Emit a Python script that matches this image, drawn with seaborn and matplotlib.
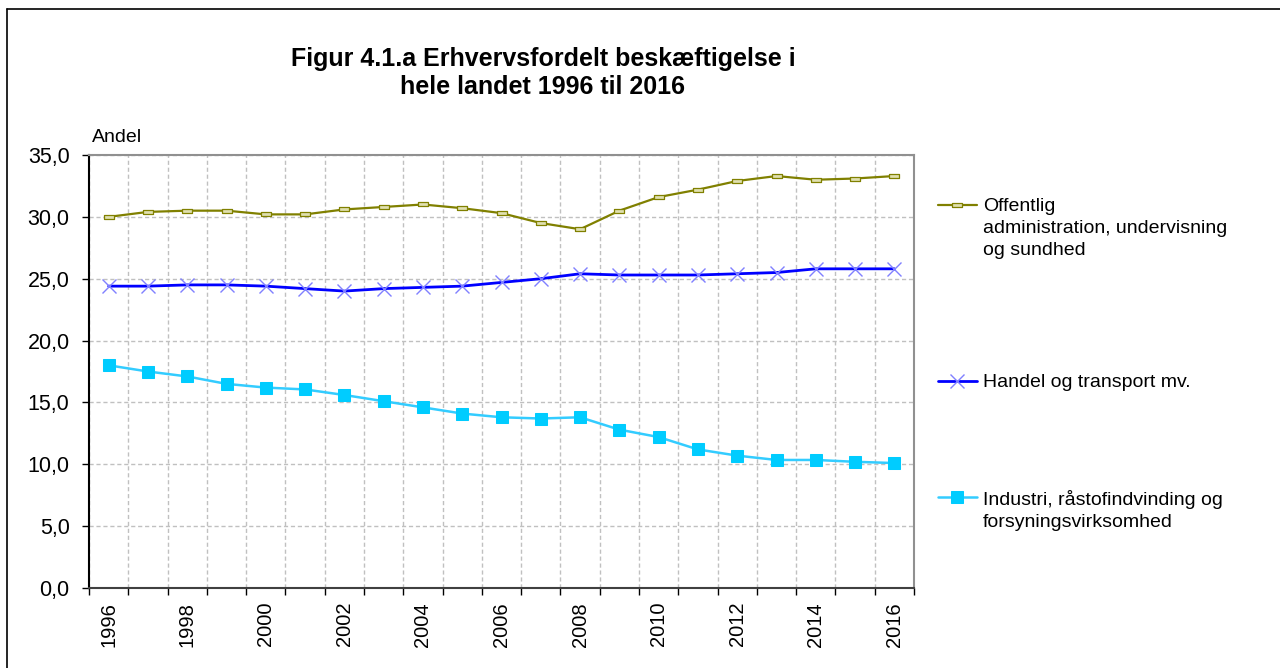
import matplotlib
matplotlib.use("Agg")
import matplotlib.pyplot as plt
import seaborn as sns
import pandas as pd
from matplotlib.lines import Line2D
from matplotlib.ticker import FixedLocator, FuncFormatter

YEARS = list(range(1996, 2017))
OFFENTLIG = [30.0, 30.4, 30.5, 30.5, 30.2, 30.2, 30.6, 30.8, 31.0, 30.7, 30.3,
             29.5, 29.0, 30.5, 31.6, 32.2, 32.9, 33.3, 33.0, 33.1, 33.3]
HANDEL = [24.4, 24.4, 24.5, 24.5, 24.4, 24.2, 24.0, 24.2, 24.3, 24.4, 24.7,
          25.0, 25.4, 25.3, 25.3, 25.3, 25.4, 25.5, 25.8, 25.8, 25.8]
INDUSTRI = [18.0, 17.5, 17.1, 16.5, 16.2, 16.05, 15.6, 15.1, 14.6, 14.1, 13.8,
            13.7, 13.8, 12.8, 12.2, 11.2, 10.7, 10.35, 10.35, 10.2, 10.1]
LABELS = ["Offentlig\nadministration, undervisning\nog sundhed",
          "Handel og transport mv.",
          "Industri, råstofindvinding og\nforsyningsvirksomhed"]
TITLE = "Figur 4.1.a Erhvervsfordelt beskæftigelse i\nhele landet 1996 til 2016"

df = pd.DataFrame({"year": YEARS, "off": OFFENTLIG, "han": HANDEL, "ind": INDUSTRI})

sns.set_style("white")
plt.rcParams["font.family"] = ["Liberation Sans", "DejaVu Sans"]
plt.rcParams["text.color"] = "black"
plt.rcParams["xtick.color"] = "black"
plt.rcParams["ytick.color"] = "black"

fig = plt.figure(figsize=(12.8, 6.68), dpi=100)
ax = fig.add_axes([89 / 1280, 80 / 668, 825 / 1280, 433 / 668])

rect = [(-1, -0.35), (1, -0.35), (1, 0.35), (-1, 0.35), (-1, -0.35)]

sns.lineplot(data=df, x="year", y="off", ax=ax, color="#808000", lw=1.6,
             marker=rect, markersize=6.5, markerfacecolor="#e0e0b0",
             markeredgecolor="#808000", markeredgewidth=0.9, label=LABELS[0])
sns.lineplot(data=df, x="year", y="han", ax=ax, color="#0000ff", lw=2,
             marker="x", markersize=9.5, markeredgecolor="#8080ff",
             markeredgewidth=1, label=LABELS[1])
sns.lineplot(data=df, x="year", y="ind", ax=ax, color="#33ccff", lw=1.8,
             marker="s", markersize=8, markerfacecolor="#00ccff",
             markeredgecolor="#00ccff", label=LABELS[2])

ax.set_xlim(1995.5, 2016.5)
ax.set_ylim(0, 35)
ax.set_xlabel("")
ax.set_ylabel("")

# category axis: labels at centres, ticks & grid at boundaries
ax.xaxis.set_major_locator(FixedLocator(YEARS[::2]))
ax.xaxis.set_minor_locator(FixedLocator([y - 0.5 for y in YEARS] + [2016.5]))
ax.tick_params(axis="x", which="major", length=0, rotation=90, labelsize=14.5, pad=10)
ax.tick_params(axis="x", which="minor", length=5, width=1, color="black", direction="out")
ax.set_yticks(range(0, 36, 5))
ax.yaxis.set_major_formatter(FuncFormatter(lambda v, p: f"{v:.1f}".replace(".", ",")))
ax.tick_params(axis="y", length=5, width=1, color="black", direction="out", labelsize=15.5, pad=9)
ax.tick_params(which="both", left=True, bottom=True)

ax.grid(False)
ax.yaxis.grid(True, which="major", color="#c0c0c0", ls=(0, (3, 2)), lw=1)
ax.xaxis.grid(True, which="minor", color="#c0c0c0", ls=(0, (3, 2)), lw=1)
ax.set_axisbelow(True)

ax.spines["left"].set_color("black")
ax.spines["bottom"].set_color("#404040")
ax.spines["top"].set_color("#909090")
ax.spines["right"].set_color("#909090")
for s in ax.spines.values():
    s.set_linewidth(1.5)

ax.text(92 / 1280, 1 - 138 / 668, "Andel", transform=fig.transFigure,
        fontsize=14, va="center", ha="left")
fig.text(543 / 1280, 1 - 73 / 668, TITLE, ha="center", va="center",
         fontsize=18, fontweight="bold", linespacing=1.2)

# legend: one per series, placed like the original
handles, labels = ax.get_legend_handles_labels()
ax.get_legend().remove()
tops = [198, 374, 490]
for h, l, t in zip(handles, labels, tops):
    leg = fig.legend([h], [l], loc="upper left", bbox_to_anchor=(938 / 1280, 1 - t / 668),
                     frameon=False, fontsize=14, handlelength=2.0, handletextpad=0.3,
                     borderpad=0, borderaxespad=0)
    for txt in leg.get_texts():
        txt.set_linespacing(1.4)
    for col in leg._legend_handle_box.get_children():
        for row in col.get_children():
            row.align = "top"

# outer frame (top and left only)
fig.add_artist(Line2D([7 / 1280, 1], [1 - 9 / 668] * 2, transform=fig.transFigure,
                      color="black", lw=1.2))
fig.add_artist(Line2D([7 / 1280] * 2, [0, 1 - 9 / 668], transform=fig.transFigure,
                      color="black", lw=1.2))

fig.savefig("out.png", dpi=100)
